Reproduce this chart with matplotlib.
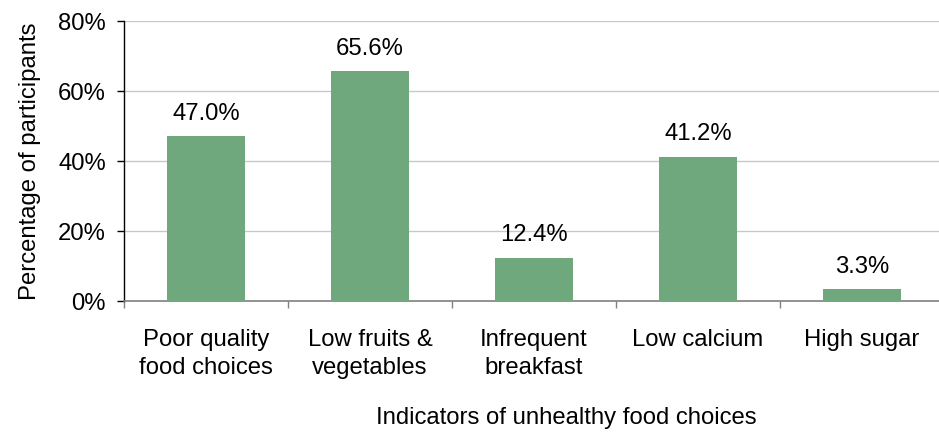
import matplotlib
matplotlib.use("Agg")
import matplotlib.pyplot as plt
from matplotlib.ticker import FuncFormatter, FixedLocator

categories = ["Poor quality\nfood choices", "Low fruits &\nvegetables", "Infrequent\nbreakfast",
              "Low calcium", "High sugar"]
values = [47.0, 65.6, 12.4, 41.2, 3.3]
yticks = [0, 20, 40, 60, 80]

plt.rcParams['font.family'] = ['Liberation Sans', 'DejaVu Sans']
FS = 17.2

W, H = 939, 436
fig = plt.figure(figsize=(W / 100, H / 100), dpi=100)
ax = fig.add_axes([124 / W, 1 - 301 / H, 820 / W, 280 / H])

x = list(range(len(categories)))
ax.bar(x, values, width=0.48, color="#6FA87D", zorder=3)

ax.set_xlim(-0.5, len(categories) - 0.5)
ax.set_ylim(0, 80)
ax.set_yticks(yticks)
ax.yaxis.set_major_formatter(FuncFormatter(lambda v, p: f"{v:.0f}%"))
ax.grid(axis="y", color="#C8C8C8", linewidth=1, zorder=0)
ax.set_axisbelow(True)

ax.set_xticks(x)
ax.set_xticklabels(categories, fontsize=FS, linespacing=1.34)
ax.xaxis.set_minor_locator(FixedLocator([i - 0.5 for i in range(len(categories) + 1)]))
ax.tick_params(axis="x", which="major", length=0, pad=20)
ax.tick_params(axis="x", which="minor", length=5, width=1, color="#808080", direction="out")
ax.tick_params(axis="y", which="major", length=5, width=1, color="black", pad=8, labelsize=FS)

for s in ["top", "right"]:
    ax.spines[s].set_visible(False)
ax.spines["left"].set_color("black")
ax.spines["left"].set_linewidth(1)
ax.spines["bottom"].set_color("#808080")
ax.spines["bottom"].set_linewidth(1.2)

for xi, v in zip(x, values):
    ax.annotate(f"{v:.1f}%", xy=(xi, v), xytext=(0, 12), textcoords="offset points",
                ha="center", va="baseline", fontsize=FS)

fig.text(30 / W, 1 - 161 / H, "Percentage of participants", rotation=90,
         ha="center", va="center", fontsize=FS)
fig.text(566 / W, 1 - 418 / H, "Indicators of unhealthy food choices",
         ha="center", va="center", fontsize=FS)

fig.savefig("out.png", dpi=100)
